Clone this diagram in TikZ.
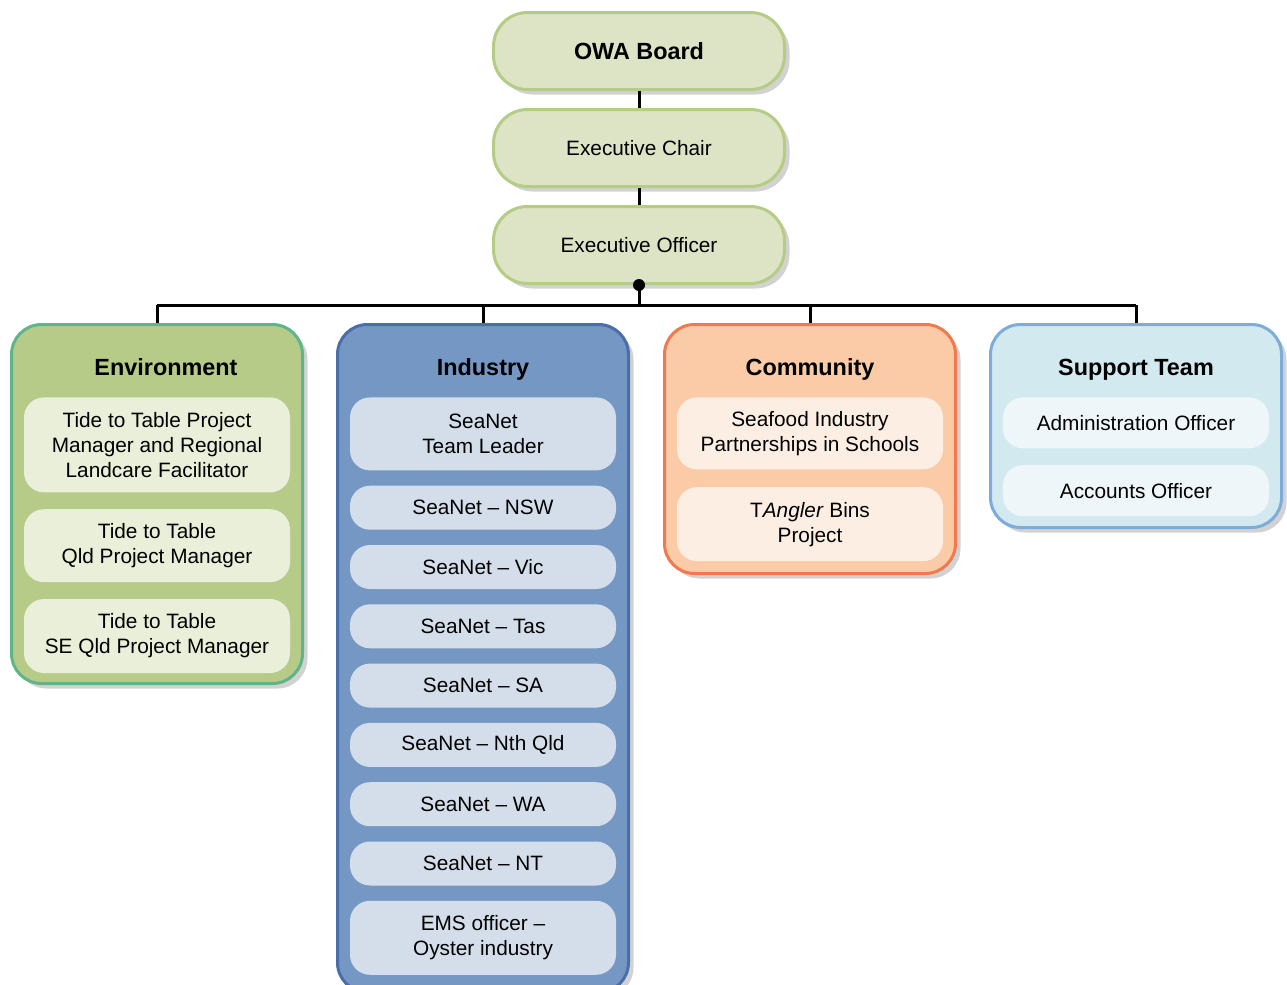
\documentclass[tikz,border=0pt]{standalone}
\usepackage{fontspec}
\setmainfont{Liberation Sans}
\usetikzlibrary{positioning,shadows}

\definecolor{boardfill}{RGB}{221,228,197}
\definecolor{boardline}{RGB}{180,204,132}
\definecolor{envfill}{RGB}{183,203,136}
\definecolor{envline}{RGB}{96,180,140}
\definecolor{envinner}{RGB}{233,239,217}
\definecolor{indfill}{RGB}{116,151,196}
\definecolor{indline}{RGB}{74,110,170}
\definecolor{indinner}{RGB}{212,222,235}
\definecolor{comfill}{RGB}{250,203,166}
\definecolor{comline}{RGB}{240,122,78}
\definecolor{cominner}{RGB}{253,238,228}
\definecolor{supfill}{RGB}{211,233,240}
\definecolor{supline}{RGB}{124,172,218}
\definecolor{supinner}{RGB}{238,246,249}

\begin{document}
\begin{tikzpicture}[x=0.5pt,y=-0.5pt,node distance=7.25pt,
  line/.style={line width=1.5pt,black},
  shade box/.style={drop shadow={shadow xshift=2.5pt,shadow yshift=-2.5pt,opacity=0.25,fill=black!70}},
  top node/.style={rounded corners=17pt,draw=boardline,line width=1.5pt,fill=boardfill,
    minimum width=145.5pt,minimum height=38.5pt,shade box,font=\fontsize{10.4}{12.5}\selectfont},
  group node/.style={rounded corners=15pt,line width=1.5pt,minimum width=145.5pt,anchor=north,shade box},
  title node/.style={anchor=base,font=\fontsize{11.7}{14}\selectfont\bfseries},
  item node/.style={rounded corners=10pt,minimum width=133pt,minimum height=22pt,align=center,
    inner sep=2pt,font=\fontsize{10.4}{12.5}\selectfont}]

  \useasboundingbox (0,0) rectangle (1287,985);

  % top chain
  \node[top node] (board) at (639,51) {\fontsize{11.7}{14}\selectfont\bfseries OWA Board};
  \node[top node,below=8.5pt of board] (chair) {Executive Chair};
  \node[top node,below=8.5pt of chair] (officer) {Executive Officer};

  % groups
  \node[group node,draw=envline,fill=envfill,minimum height=179.5pt] (env) at (157,323) {};
  \node[group node,draw=indline,fill=indfill,minimum height=334pt] (ind) at (483,323) {};
  \node[group node,draw=comline,fill=comfill,minimum height=124.5pt] (com) at (810,323) {};
  \node[group node,draw=supline,fill=supfill,minimum height=101.5pt] (sup) at (1136,323) {};

  \node[title node] (envtitle) at (166,375.5) {Environment};
  \node[title node] (indtitle) at (483,375.5) {Industry};
  \node[title node] (comtitle) at (810,375.5) {Community};
  \node[title node] (suptitle) at (1136,375.5) {Support Team};

  % Environment
  \node[item node,fill=envinner,anchor=north,minimum height=47.5pt] (e1) at (157,397)
    {Tide to Table Project\\Manager and Regional\\Landcare Facilitator};
  \node[item node,fill=envinner,minimum height=36.5pt,below=8pt of e1] (e2) {Tide to Table\\Qld Project Manager};
  \node[item node,fill=envinner,minimum height=37pt,below=8pt of e2] (e3) {Tide to Table\\SE Qld Project Manager};

  % Industry
  \node[item node,fill=indinner,anchor=north,minimum height=36.5pt] (i1) at (483,397) {SeaNet\\Team Leader};
  \node[item node,fill=indinner,below=of i1] (i2) {SeaNet -- NSW};
  \node[item node,fill=indinner,below=of i2] (i3) {SeaNet -- Vic};
  \node[item node,fill=indinner,below=of i3] (i4) {SeaNet -- Tas};
  \node[item node,fill=indinner,below=of i4] (i5) {SeaNet -- SA};
  \node[item node,fill=indinner,below=of i5] (i6) {SeaNet -- Nth Qld};
  \node[item node,fill=indinner,below=of i6] (i7) {SeaNet -- WA};
  \node[item node,fill=indinner,below=of i7] (i8) {SeaNet -- NT};
  \node[item node,fill=indinner,minimum height=37pt,below=of i8] (i9) {EMS officer --\\Oyster industry};

  % Community
  \node[item node,fill=cominner,anchor=north,minimum height=36pt] (c1) at (810,397)
    {Seafood Industry\\Partnerships in Schools};
  \node[item node,fill=cominner,minimum height=37pt,below=8.5pt of c1] (c2) {T\textit{Angler} Bins\\Project};

  % Support Team
  \node[item node,fill=supinner,anchor=north,minimum height=25.5pt] (s1) at (1136,397) {Administration Officer};
  \node[item node,fill=supinner,minimum height=25.5pt,below=8pt of s1] (s2) {Accounts Officer};

  % connectors
  \draw[line] (board) -- (chair);
  \draw[line] (chair) -- (officer);
  \coordinate (bus) at (officer.south |- 0,305);
  \draw[line] (officer.south) -- (bus);
  \fill (officer.south) circle (3pt);
  \draw[line] (env.north |- bus) -- (sup.north |- bus);
  \foreach \g in {env,ind,com,sup}
    \draw[line] (\g.north) -- (\g.north |- bus);
\end{tikzpicture}
\end{document}
